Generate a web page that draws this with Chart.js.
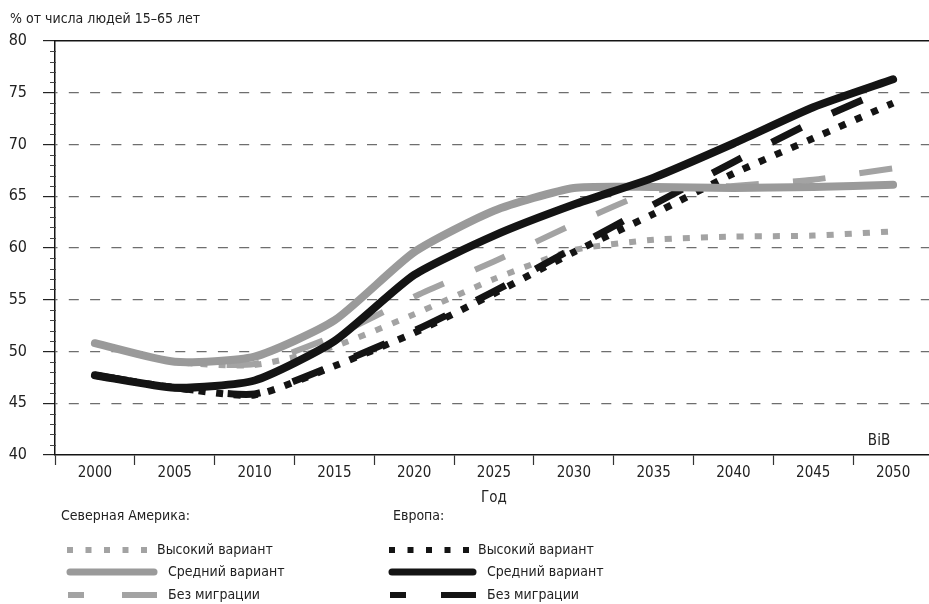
<!DOCTYPE html>
<html>
<head>
<meta charset="utf-8">
<script src="https://cdn.jsdelivr.net/npm/chart.js@4.4.1/dist/chart.umd.min.js"></script>
<style>
  html, body { margin: 0; padding: 0; background: #fff; overflow: hidden; }
  #wrap { position: relative; width: 933px; height: 604px; }
</style>
</head>
<body>
<div id="wrap"><canvas id="chart"></canvas></div>
<script>
// data
const years = ['2000', '2005', '2010', '2015', '2020', '2025', '2030', '2035', '2040', '2045', '2050'];
const naHigh  = [50.8, 49.0, 48.7, 50.5, 53.6, 57.0, 59.8, 60.8, 61.1, 61.2, 61.6];
const naMid   = [50.8, 49.0, 49.5, 53.0, 59.6, 63.6, 65.8, 65.9, 65.8, 65.9, 66.1];
const naNoMig = [50.8, 49.0, 48.8, 51.5, 55.3, 58.7, 62.3, 65.5, 66.0, 66.6, 67.7];
const euHigh  = [47.7, 46.5, 45.8, 48.6, 51.8, 55.6, 59.6, 63.3, 67.2, 70.6, 74.0];
const euMid   = [47.7, 46.5, 47.2, 51.0, 57.4, 61.2, 64.2, 66.8, 70.1, 73.6, 76.3];
const euNoMig = [47.7, 46.5, 45.9, 48.7, 52.0, 55.8, 60.0, 64.2, 68.3, 72.2, 75.6];
const yTicks = [40, 45, 50, 55, 60, 65, 70, 75, 80];

const FONT = "'Liberation Sans Narrow', 'DejaVu Sans Condensed', sans-serif";
const GRAY = '#a3a3a3';
const GRAY_MID = '#9a9a9a';
const BLACK = '#141414';

// extra drawing: minor ticks, caption texts, legend
const extras = {
  id: 'extras',
  afterDraw(chart) {
    const ctx = chart.ctx;
    const y = chart.scales.y;
    ctx.save();
    // minor ticks on the y axis
    ctx.strokeStyle = '#444';
    ctx.lineWidth = 1;
    for (let v = 41; v < 80; v++) {
      if (v % 5 === 0) continue;
      const py = Math.round(y.getPixelForValue(v)) + 0.5;
      ctx.beginPath();
      ctx.moveTo(50, py);
      ctx.lineTo(56, py);
      ctx.stroke();
    }

    ctx.fillStyle = '#222';
    ctx.textBaseline = 'middle';
    ctx.font = '14px ' + FONT;
    ctx.textAlign = 'left';
    ctx.fillText('% от числа людей 15–65 лет', 10, 19);

    ctx.textAlign = 'center';
    ctx.font = '15px ' + FONT;
    ctx.fillText('BiB', 879, 441);

    // legend
    ctx.font = '14px ' + FONT;
    ctx.textAlign = 'left';
    ctx.fillText('Северная Америка:', 61, 516);
    ctx.fillText('Европа:', 393, 516);

    const rows = [550, 572, 595];
    const groups = [
      {color: GRAY, mid: GRAY_MID, x0: 67, x1: 157, tx: [157, 168, 168]},
      {color: BLACK, mid: BLACK, x0: 389, x1: 476, tx: [478, 487, 487]}
    ];
    const names = ['Высокий вариант', 'Средний вариант', 'Без миграции'];
    groups.forEach(g => {
      // high: squares
      ctx.strokeStyle = g.color;
      ctx.lineCap = 'butt';
      ctx.lineWidth = 6;
      ctx.setLineDash([6, 12.5]);
      ctx.beginPath();
      ctx.moveTo(g.x0, rows[0]);
      ctx.lineTo(g.x0 + 80, rows[0]);
      ctx.stroke();
      // mid: solid
      ctx.setLineDash([]);
      ctx.strokeStyle = g.mid;
      ctx.lineCap = 'round';
      ctx.lineWidth = 7;
      ctx.beginPath();
      ctx.moveTo(g.x0 + 3, rows[1]);
      ctx.lineTo(g.x1 - 3, rows[1]);
      ctx.stroke();
      // no migration: short + long dash
      ctx.strokeStyle = g.color;
      ctx.lineCap = 'butt';
      ctx.lineWidth = 6;
      ctx.beginPath();
      ctx.moveTo(g.x0 + 1, rows[2]);
      ctx.lineTo(g.x0 + 17, rows[2]);
      ctx.moveTo(g.x1 - 35, rows[2]);
      ctx.lineTo(g.x1, rows[2]);
      ctx.stroke();

      ctx.fillStyle = '#222';
      names.forEach((n, i) => ctx.fillText(n, g.tx[i], rows[i]));
    });
    ctx.restore();
  }
};

const ctx = document.getElementById('chart').getContext('2d');
const chart = new Chart(ctx, {
  type: 'line',
  data: {
    labels: years,
    datasets: [
      {label: 'Северная Америка: Средний вариант', data: naMid, borderColor: GRAY_MID, borderWidth: 8,
       borderCapStyle: 'round', order: 1},
      {label: 'Европа: Средний вариант', data: euMid, borderColor: BLACK, borderWidth: 8,
       borderCapStyle: 'round', order: 0},
      {label: 'Северная Америка: Высокий вариант', data: naHigh, borderColor: GRAY, borderWidth: 6,
       borderDash: [7, 11], order: 3},
      {label: 'Северная Америка: Без миграции', data: naNoMig, borderColor: GRAY, borderWidth: 6,
       borderDash: [33, 34], order: 3},
      {label: 'Европа: Высокий вариант', data: euHigh, borderColor: BLACK, borderWidth: 7,
       borderDash: [7, 10.5], order: 2},
      {label: 'Европа: Без миграции', data: euNoMig, borderColor: BLACK, borderWidth: 7,
       borderDash: [33, 34], order: 2}
    ]
  },
  options: {
    responsive: true,
    maintainAspectRatio: false,
    animation: false,
    layout: {padding: {top: 41, left: 0, right: 0, bottom: 97}},
    elements: {
      point: {radius: 0, hoverRadius: 0},
      line: {tension: 0.2, fill: false}
    },
    plugins: {
      legend: {display: false},
      tooltip: {enabled: false}
    },
    scales: {
      x: {
        type: 'category',
        offset: true,
        grid: {offset: true, drawOnChartArea: false, tickLength: 10, tickColor: '#333', tickWidth: 1.2},
        border: {color: BLACK, width: 1.5},
        ticks: {color: '#222', font: {family: FONT, size: 15}, padding: -1, maxRotation: 0, autoSkip: false},
        title: {display: true, text: 'Год', color: '#222', font: {family: FONT, size: 15}, padding: 0},
        afterFit(scale) { scale.height = 52; }
      },
      x2: {
        type: 'category',
        position: 'top',
        offset: true,
        grid: {display: false},
        ticks: {display: false},
        border: {color: BLACK, width: 1.5},
        afterFit(scale) { scale.height = 0; }
      },
      y: {
        min: 40,
        max: 80,
        afterBuildTicks(scale) { scale.ticks = yTicks.map(v => ({value: v})); },
        grid: {
          color: c => (c.tick && (c.tick.value === 40 || c.tick.value === 80)) ? 'rgba(0,0,0,0)' : '#6e6e6e',
          lineWidth: 1.2,
          tickLength: 12,
          tickColor: '#222',
          tickWidth: 1.2
        },
        border: {color: BLACK, width: 1.5, dash: [10, 11.3], dashOffset: 8},
        ticks: {color: '#222', font: {family: FONT, size: 16}, padding: 16},
        afterFit(scale) { scale.width = 55; }
      }
    }
  },
  plugins: [extras]
});
</script>
</body>
</html>
